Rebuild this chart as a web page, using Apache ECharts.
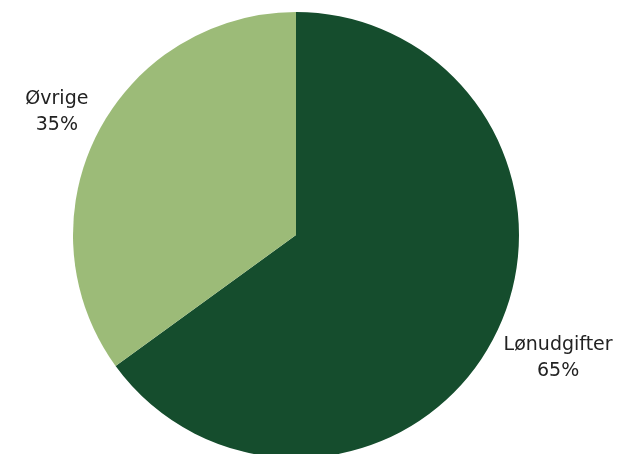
<!DOCTYPE html>
<html>
<head>
<meta charset="utf-8">
<script src="https://cdn.jsdelivr.net/npm/echarts@6/dist/echarts.min.js"></script>
<style>
  html, body { margin: 0; padding: 0; background: #ffffff; }
  #chart { width: 621px; height: 454px; }
</style>
</head>
<body>
<div id="chart"></div>
<script>
// Fordeling af udgifter
const categories = ['Lønudgifter', 'Øvrige'];
const shares = [65, 35];
const colors = ['#154d2d', '#9cbb78'];

const CENTER = [296, 235];
const RADIUS = 223;
const LABEL_GAP = 10;     // distance from rim to the near edge of a label
const LABEL_LIFT = 17;    // extra vertical push away from the horizontal axis

// mid angle (radians, screen coords) of each slice, clockwise from 12 o'clock
const total = shares.reduce((a, b) => a + b, 0);
const midAngles = [];
let acc = 0;
shares.forEach(v => {
  const mid = (acc + v / 2) / total * Math.PI * 2;
  midAngles.push(mid - Math.PI / 2);
  acc += v;
});

const chart = echarts.init(document.getElementById('chart'), null, { renderer: 'canvas' });

chart.setOption({
  animation: false,
  series: [{
    type: 'pie',
    center: CENTER,
    radius: RADIUS,
    startAngle: 90,
    clockwise: true,
    data: categories.map((name, i) => ({
      name: name,
      value: shares[i],
      itemStyle: { color: colors[i] }
    })),
    label: {
      show: true,
      position: 'outside',
      alignTo: 'none',
      overflow: 'none',
      formatter: '{b}\n{c}%',
      fontFamily: 'DejaVu Sans',
      fontSize: 19,
      lineHeight: 26,
      color: '#222222'
    },
    labelLine: { show: false },
    labelLayout: function (params) {
      const a = midAngles[params.dataIndex];
      const cos = Math.cos(a), sin = Math.sin(a);
      const r = RADIUS + LABEL_GAP;
      const side = cos >= 0 ? 1 : -1;
      const vside = sin >= 0 ? 1 : -1;
      return {
        x: CENTER[0] + cos * r + side * params.labelRect.width / 2,
        y: CENTER[1] + sin * r + vside * LABEL_LIFT,
        align: 'center',
        verticalAlign: 'middle'
      };
    },
    emphasis: { disabled: true }
  }]
});
</script>
</body>
</html>
